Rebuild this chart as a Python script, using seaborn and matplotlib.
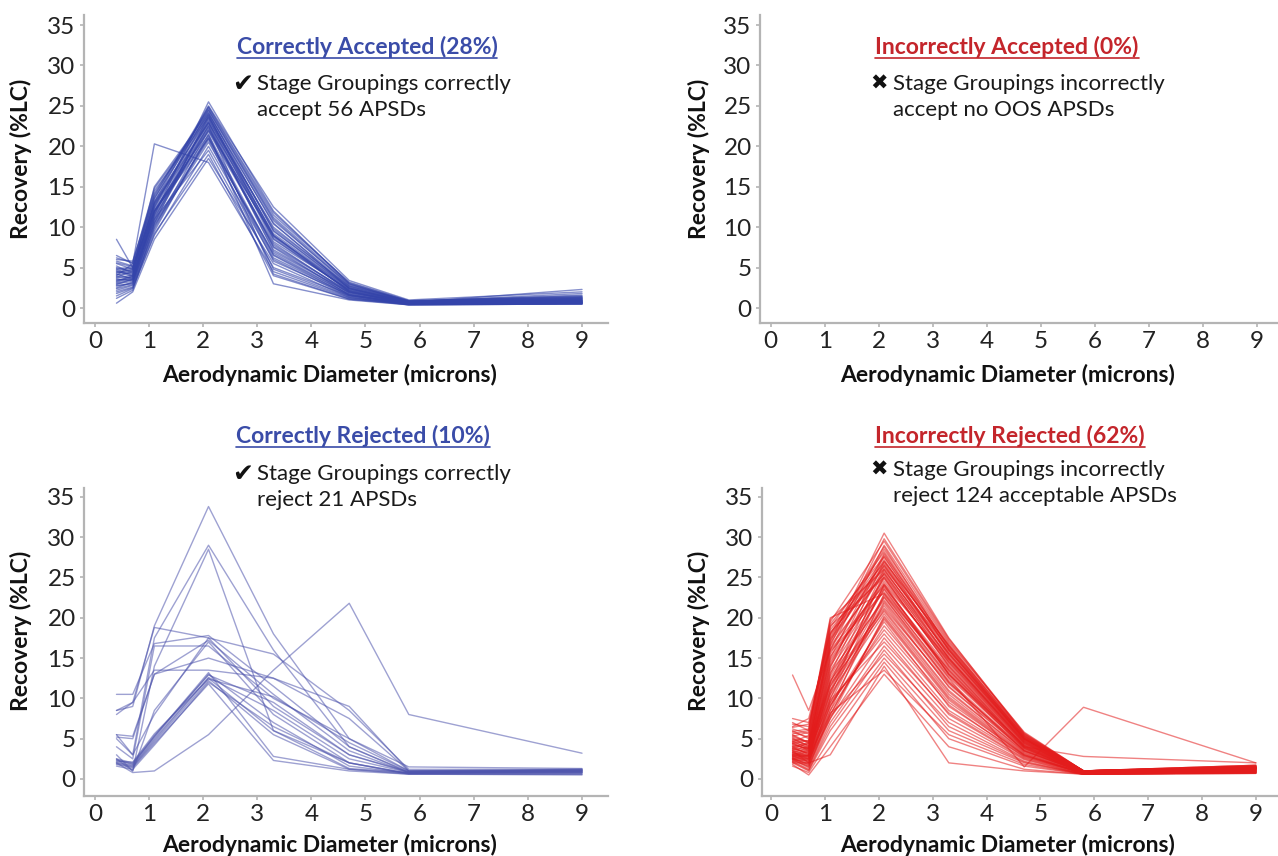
import numpy as np
import pandas as pd
import seaborn as sns
import matplotlib
matplotlib.use("Agg")
import matplotlib.pyplot as plt
from matplotlib.lines import Line2D

# ---------------- data ----------------
diameters = [0.4, 0.7, 1.1, 2.1, 3.3, 4.7, 5.8, 9.0]

correctly_accepted = [
    [3.2, 3.8, 11.0, 23.5, 9.0, 2.0, 0.6, 0.8],
    [4.5, 4.2, 12.5, 24.0, 10.5, 2.4, 0.7, 1.0],
    [2.8, 3.0, 10.0, 22.0, 8.0, 1.8, 0.5, 0.7],
    [5.5, 4.8, 13.0, 23.0, 7.5, 1.6, 0.6, 0.9],
    [8.5, 5.0, 12.0, 21.0, 6.5, 1.5, 0.5, 0.6],
    [1.8, 2.5, 9.0, 20.0, 6.0, 1.4, 0.4, 0.5],
    [0.6, 2.0, 8.5, 18.5, 5.5, 1.3, 0.4, 0.5],
    [4.0, 5.5, 20.3, 18.0, 4.5, 1.2, 0.5, 0.7],
    [3.5, 3.5, 11.5, 25.5, 12.0, 3.0, 0.8, 1.2],
    [6.0, 5.8, 14.0, 24.5, 11.0, 2.8, 0.9, 1.5],
    [2.2, 2.8, 9.5, 21.5, 3.0, 1.0, 0.4, 0.6],
    [4.8, 4.0, 12.0, 22.5, 4.2, 1.1, 0.5, 0.7],
    [3.0, 3.3, 10.5, 23.8, 8.5, 2.2, 0.7, 2.3],
    [5.0, 4.5, 15.0, 24.2, 9.5, 2.5, 0.8, 1.8],
    [2.5, 3.2, 11.0, 19.5, 5.0, 1.5, 0.5, 0.6],
    [3.8, 4.6, 12.8, 22.8, 7.0, 1.9, 0.6, 0.8],
    [4.2, 3.6, 11.8, 23.2, 10.0, 2.6, 0.7, 1.1],
    [1.2, 2.2, 10.2, 20.5, 6.8, 1.7, 0.5, 0.5],
    [5.8, 5.2, 13.5, 24.8, 11.5, 3.2, 0.9, 1.3],
    [3.3, 4.0, 12.2, 21.8, 7.8, 2.0, 0.6, 0.9],
    [4.6, 3.9, 11.2, 22.2, 8.8, 2.1, 0.6, 1.0],
    [2.0, 2.6, 9.8, 21.2, 5.8, 1.6, 0.5, 0.6],
    [6.5, 5.5, 14.5, 23.6, 9.8, 2.7, 0.8, 1.4],
    [3.6, 3.4, 10.8, 22.6, 7.2, 1.9, 0.6, 0.8],
    [4.4, 4.8, 12.6, 24.4, 10.8, 2.9, 0.8, 1.6],
    [2.7, 3.1, 10.4, 20.8, 4.8, 1.3, 0.5, 0.7],
    [5.2, 4.3, 13.2, 23.4, 8.2, 2.3, 0.7, 1.1],
    [3.9, 3.7, 11.6, 22.9, 9.2, 2.4, 0.7, 1.2],
    [1.5, 2.4, 9.2, 19.0, 4.0, 1.1, 0.4, 0.5],
    [4.9, 5.0, 13.8, 25.0, 12.5, 3.4, 1.0, 2.0],
    [3.4, 3.9, 12.4, 23.0, 8.6, 2.1, 0.6, 0.9],
    [2.4, 2.9, 10.6, 21.0, 6.2, 1.6, 0.5, 0.6],
    [5.6, 5.1, 14.2, 24.6, 11.2, 3.0, 0.8, 1.3],
    [4.1, 4.4, 12.9, 23.7, 9.6, 2.5, 0.7, 1.0],
    [3.1, 3.5, 11.4, 22.4, 7.6, 2.0, 0.6, 0.8],
    [4.7, 4.9, 13.6, 24.1, 10.4, 2.7, 0.8, 1.2],
    [2.9, 3.6, 11.9, 22.0, 9.0, 2.2, 0.6, 0.9],
    [6.2, 5.6, 14.8, 23.9, 8.9, 2.4, 0.7, 1.0],
    [3.7, 4.1, 12.0, 21.4, 6.6, 1.7, 0.5, 0.7],
    [4.3, 4.7, 13.1, 24.9, 11.8, 3.1, 0.9, 1.4],
]

incorrectly_accepted = []

correctly_rejected = [
    [2.3, 1.9, 5.2, 13.0, 7.0, 1.6, 0.7, 1.0],
    [2.0, 1.6, 4.8, 12.5, 6.0, 1.3, 0.8, 0.8],
    [1.9, 1.5, 4.6, 12.2, 5.5, 1.2, 0.7, 0.7],
    [2.5, 2.0, 5.4, 12.9, 9.5, 3.0, 0.9, 1.1],
    [2.1, 1.7, 5.0, 12.6, 8.5, 2.5, 0.8, 1.2],
    [2.4, 1.8, 5.3, 13.2, 2.8, 1.2, 0.6, 0.6],
    [1.8, 1.4, 4.4, 11.8, 2.3, 1.0, 0.6, 0.5],
    [2.2, 2.1, 5.6, 12.4, 10.2, 4.5, 1.0, 1.2],
    [5.5, 3.0, 8.0, 17.5, 9.0, 3.0, 0.8, 1.0],
    [4.0, 2.5, 16.5, 16.5, 10.0, 5.0, 1.0, 1.1],
    [8.0, 9.5, 18.8, 17.5, 15.5, 8.5, 1.2, 1.2],
    [10.5, 10.5, 16.8, 17.8, 11.5, 4.0, 0.8, 0.9],
    [5.5, 5.3, 13.0, 15.0, 12.5, 7.5, 1.0, 1.0],
    [3.0, 1.0, 8.5, 17.0, 8.0, 2.0, 0.7, 0.8],
    [8.5, 9.0, 19.0, 33.8, 18.0, 5.0, 1.5, 1.3],
    [5.0, 3.0, 17.5, 29.0, 16.0, 4.0, 0.9, 1.0],
    [2.5, 1.0, 14.0, 28.5, 6.0, 2.0, 0.7, 0.8],
    [2.0, 0.8, 1.0, 5.5, 13.5, 21.8, 8.0, 3.2],
    [8.5, 9.5, 13.5, 13.5, 12.5, 9.0, 1.0, 1.0],
    [5.2, 5.0, 13.0, 17.2, 10.5, 3.5, 0.8, 0.9],
    [1.6, 1.2, 4.2, 12.0, 6.5, 2.0, 0.6, 0.6],
]

incorrectly_rejected = [
    [3.0, 2.5, 12.0, 26.0, 15.0, 4.5, 0.8, 1.2],
    [4.5, 3.5, 15.0, 28.0, 16.0, 5.0, 0.9, 1.5],
    [2.5, 1.5, 8.0, 20.0, 10.0, 3.0, 0.7, 1.0],
    [5.0, 4.0, 17.0, 30.5, 17.5, 5.5, 1.0, 1.6],
    [2.0, 1.0, 6.0, 15.0, 6.0, 2.0, 0.6, 0.8],
    [3.5, 2.0, 10.0, 22.0, 12.0, 3.5, 0.8, 1.1],
    [6.0, 5.0, 19.0, 25.0, 14.0, 4.0, 0.9, 1.3],
    [12.9, 8.5, 16.0, 24.0, 13.0, 4.2, 0.9, 1.4],
    [1.8, 0.5, 4.0, 13.0, 4.0, 1.2, 0.6, 0.7],
    [2.8, 2.2, 9.5, 18.0, 8.5, 2.8, 0.7, 0.9],
    [4.0, 3.0, 13.0, 27.0, 16.5, 5.2, 1.0, 1.5],
    [7.0, 6.0, 20.0, 23.0, 13.5, 4.0, 0.8, 1.2],
    [2.2, 1.2, 7.0, 16.5, 7.5, 2.4, 0.6, 0.8],
    [3.2, 2.6, 11.0, 21.0, 11.0, 3.3, 0.7, 1.0],
    [5.5, 4.5, 16.0, 29.0, 17.0, 5.8, 1.0, 1.7],
    [2.0, 2.0, 3.0, 14.0, 2.0, 1.0, 0.6, 0.7],
    [3.8, 3.3, 14.0, 24.5, 14.5, 4.6, 0.9, 1.3],
    [4.2, 3.8, 15.5, 26.5, 15.5, 5.0, 0.9, 1.4],
    [2.6, 1.8, 8.5, 19.0, 9.5, 3.0, 0.7, 1.0],
    [3.0, 2.8, 12.5, 22.5, 12.5, 1.5, 8.9, 2.0],
    [6.5, 7.5, 18.0, 27.5, 16.0, 5.0, 1.0, 1.5],
    [2.4, 1.4, 7.5, 17.5, 8.0, 2.5, 0.6, 0.9],
    [3.6, 2.9, 12.8, 23.5, 13.0, 4.0, 2.8, 2.0],
    [4.8, 4.2, 16.5, 25.5, 15.0, 4.8, 0.9, 1.4],
    [2.9, 2.3, 10.5, 20.5, 10.5, 3.2, 0.7, 1.0],
    [5.2, 4.6, 17.5, 28.5, 16.8, 5.4, 1.0, 1.6],
    [1.6, 0.8, 5.0, 14.5, 5.0, 1.6, 0.6, 0.7],
    [3.4, 2.7, 11.5, 21.5, 11.5, 3.6, 0.8, 1.1],
    [4.4, 3.6, 14.5, 25.0, 14.0, 4.4, 0.9, 1.3],
    [2.7, 2.0, 9.0, 19.5, 9.0, 2.9, 0.7, 0.9],
    [5.8, 5.2, 18.5, 26.8, 15.8, 5.1, 1.0, 1.5],
    [3.1, 2.4, 10.8, 22.8, 12.8, 3.9, 0.8, 1.2],
    [2.3, 1.6, 7.8, 15.5, 7.0, 2.2, 0.6, 0.8],
    [4.6, 3.9, 15.2, 24.2, 14.8, 4.7, 0.9, 1.3],
    [3.9, 3.1, 13.5, 23.8, 13.8, 4.3, 0.9, 1.3],
    [2.1, 1.1, 6.5, 16.0, 6.5, 2.1, 0.6, 0.8],
    [5.4, 4.4, 16.8, 27.2, 15.2, 4.9, 1.0, 1.5],
    [3.3, 2.5, 11.8, 20.8, 10.8, 3.4, 0.8, 1.0],
    [4.1, 3.4, 14.2, 26.2, 16.2, 5.3, 1.0, 1.4],
    [2.5, 1.9, 9.2, 18.5, 9.2, 2.7, 0.7, 0.9],
    [6.2, 5.6, 19.5, 29.5, 17.2, 5.6, 1.0, 1.7],
    [3.7, 3.2, 13.2, 22.2, 12.2, 3.7, 0.8, 1.1],
    [2.9, 2.1, 9.8, 17.0, 8.2, 2.6, 0.7, 0.9],
    [4.3, 3.7, 14.8, 24.8, 14.2, 4.5, 0.9, 1.3],
    [3.5, 2.8, 12.2, 21.2, 11.8, 3.8, 0.8, 1.1],
    [5.1, 4.1, 16.2, 25.8, 15.6, 5.0, 1.0, 1.4],
    [2.6, 1.7, 8.2, 13.5, 5.5, 1.8, 0.6, 0.8],
    [4.7, 3.8, 15.8, 23.2, 13.6, 4.2, 0.9, 1.2],
    [3.2, 2.9, 13.8, 27.8, 16.6, 5.4, 1.0, 1.5],
    [4.9, 4.7, 17.2, 26.4, 15.4, 4.9, 0.9, 1.4],
    [2.8, 3.4, 10.0, 24.2, 13.0, 3.8, 0.8, 1.2],
    [6.8, 6.5, 18.8, 28.2, 16.4, 5.2, 1.0, 1.6],
    [3.6, 4.0, 11.0, 25.2, 14.6, 4.6, 0.9, 1.3],
    [2.4, 2.6, 8.5, 23.0, 12.6, 3.9, 0.8, 1.1],
    [5.6, 6.0, 19.8, 26.0, 15.0, 4.8, 0.9, 1.4],
    [4.4, 4.8, 17.8, 27.0, 16.6, 5.6, 1.0, 1.5],
    [3.0, 3.6, 9.5, 22.6, 12.0, 3.5, 0.8, 1.1],
    [7.5, 7.0, 18.2, 25.4, 14.4, 4.4, 0.9, 1.3],
    [2.2, 2.4, 7.5, 20.2, 10.2, 3.1, 0.7, 1.0],
    [4.6, 5.4, 16.6, 29.8, 17.4, 5.7, 1.0, 1.7],
    [3.8, 4.4, 11.5, 24.0, 13.4, 4.1, 0.9, 1.2],
    [5.3, 5.8, 18.0, 28.8, 16.2, 5.1, 1.0, 1.5],
    [2.7, 3.0, 9.0, 21.8, 11.4, 3.5, 0.8, 1.1],
    [6.4, 6.8, 17.4, 26.6, 15.6, 5.0, 0.9, 1.4],
    [3.3, 3.8, 10.5, 25.6, 14.8, 4.7, 0.9, 1.3],
    [4.0, 4.5, 12.0, 23.6, 13.2, 4.1, 0.8, 1.2],
    [2.5, 2.9, 8.0, 19.8, 9.8, 2.9, 0.7, 0.9],
    [5.9, 6.2, 19.2, 27.6, 16.0, 5.3, 1.0, 1.5],
]

x_ticks = [0, 1, 2, 3, 4, 5, 6, 7, 8, 9]
y_ticks = [0, 5, 10, 15, 20, 25, 30, 35]

titles = ["Correctly Accepted (28%)", "Incorrectly Accepted (0%)",
          "Correctly Rejected (10%)", "Incorrectly Rejected (62%)"]
notes = ["Stage Groupings correctly\naccept 56 APSDs",
         "Stage Groupings incorrectly\naccept no OOS APSDs",
         "Stage Groupings correctly\nreject 21 APSDs",
         "Stage Groupings incorrectly\nreject 124 acceptable APSDs"]
symbols = ["\u2714", "\u2716", "\u2714", "\u2716"]

# ---------------- style ----------------
sns.set_style("white")
FAM = ["Lato", "DejaVu Sans"]
plt.rcParams["font.family"] = FAM

BLUE = "#3444aa"
BLUE_T = "#3a4ca8"
RED = "#e31c1c"
RED_T = "#c4252b"
SPINE = "#b4b4b4"

W, H = 1278, 856
fig = plt.figure(figsize=(W / 100, H / 100), dpi=100)


def px_axes(l, t, r, b):
    return fig.add_axes([l / W, 1 - b / H, (r - l) / W, (b - t) / H])


axes = [
    px_axes(84, 15, 608, 323),
    px_axes(760, 15, 1278, 323),
    px_axes(84, 488, 608, 796),
    px_axes(762, 488, 1278, 796),
]
xlims = [(-0.2, 9.48), (-0.2, 9.39), (-0.2, 9.48), (-0.167, 9.41)]
ylims = [(-1.85, 36.24), (-1.85, 36.24), (-2.11, 36.1), (-2.11, 36.1)]
xlabel_pos = [(0.469, -0.133), (0.477, -0.133), (0.469, -0.122), (0.475, -0.122)]
ylabel_pos = [(-0.1, 0.532), (-0.097, 0.532), (-0.1, 0.536), (-0.1, 0.536)]

datasets = [correctly_accepted, incorrectly_accepted, correctly_rejected, incorrectly_rejected]
line_colors = [BLUE, BLUE, "#4f55ad", RED]
alphas = [0.6, 0.6, 0.55, 0.55]


def to_long(rows):
    recs = []
    for i, row in enumerate(rows):
        for xv, yv in zip(diameters, row):
            recs.append({"run": i, "d": xv, "r": yv})
    return pd.DataFrame(recs, columns=["run", "d", "r"])


for k, ax in enumerate(axes):
    df = to_long(datasets[k])
    if len(df):
        sns.lineplot(data=df, x="d", y="r", units="run", estimator=None,
                     color=line_colors[k], alpha=alphas[k], lw=1.0, ax=ax,
                     sort=False)
    ax.set_xlim(*xlims[k])
    ax.set_ylim(*ylims[k])
    ax.set_xticks(x_ticks)
    ax.set_yticks(y_ticks)
    ax.set_xticklabels([str(v) for v in x_ticks])
    ax.set_yticklabels([str(v) for v in y_ticks])
    for s in ["top", "right"]:
        ax.spines[s].set_visible(False)
    for s in ["left", "bottom"]:
        ax.spines[s].set_color(SPINE)
        ax.spines[s].set_linewidth(1.6)
    ax.tick_params(axis="both", which="major", length=3, width=1.2, color=SPINE,
                   labelsize=17.5, labelcolor="#222222", pad=3, direction="out",
                   left=True, bottom=True)
    ax.set_xlabel("Aerodynamic Diameter (microns)", fontsize=16.5, fontweight="bold",
                  color="#111111")
    ax.set_ylabel("Recovery (%LC)", fontsize=16.5, fontweight="bold",
                  color="#111111")
    ax.xaxis.set_label_coords(*xlabel_pos[k])
    ax.yaxis.set_label_coords(*ylabel_pos[k])
    ax.patch.set_alpha(0)

# titles and notes (pixel positions from top-left)
title_pos = [(367, 47), (1007, 47), (363, 436), (1010, 436)]
title_cols = [BLUE_T, RED_T, BLUE_T, RED_T]
note_pos = [(257, 84), (893, 84), (257, 474), (893, 470)]
sym_pos = [(243, 84), (879, 84), (243, 474), (879, 470)]
LINE_GAP = 26

fig.canvas.draw()
for k in range(4):
    tx, ty = title_pos[k]
    t = fig.text(tx / W, 1 - ty / H, titles[k], ha="center", va="center",
                 fontsize=16.5, fontweight="bold", color=title_cols[k])
    fig.canvas.draw()
    bb = t.get_window_extent().transformed(fig.transFigure.inverted())
    uy = 1 - (ty + 11) / H
    fig.add_artist(Line2D([bb.x0, bb.x1], [uy, uy], transform=fig.transFigure,
                          color=title_cols[k], lw=1.2))
    nx, ny = note_pos[k]
    l1, l2 = notes[k].split("\n")
    fig.text(nx / W, 1 - ny / H, l1, ha="left", va="center", fontsize=16,
             color="#1a1a1a")
    fig.text(nx / W, 1 - (ny + LINE_GAP) / H, l2, ha="left", va="center",
             fontsize=16, color="#1a1a1a")
    sx, sy = sym_pos[k]
    fig.text(sx / W, 1 - sy / H, symbols[k], ha="center", va="center",
             fontsize=18 if k % 2 == 0 else 15, color="#111111",
             family=["DejaVu Sans"])

fig.savefig("out.png", dpi=100)
